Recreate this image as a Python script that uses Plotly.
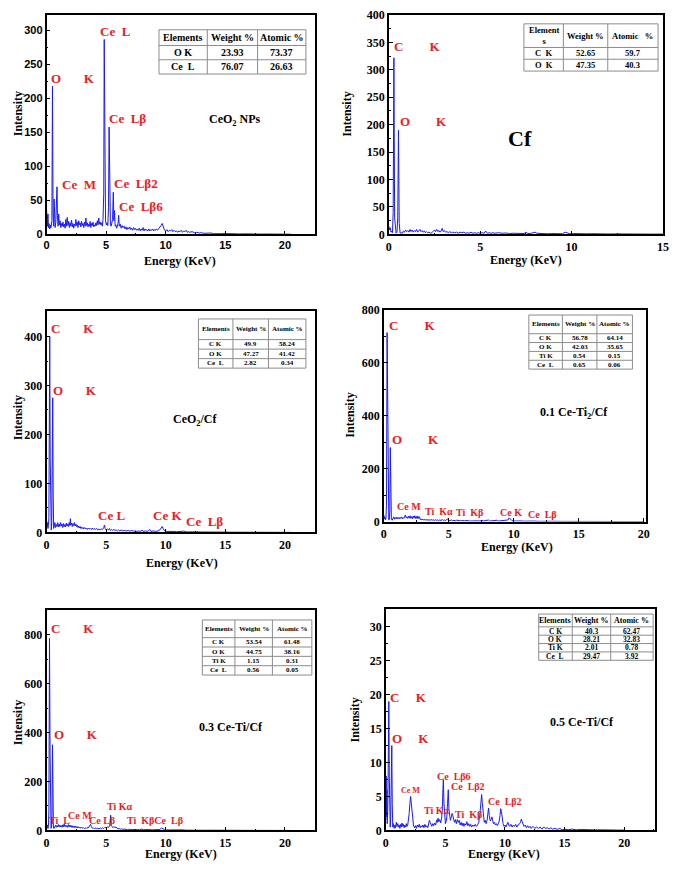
import plotly.graph_objects as go

# the page body keeps its default 8px margin: size the figure so the page is exactly the window,
# and lay everything out in window pixels minus that margin
OFF = 8
W, H = 677 - 2 * OFF, 873 - 2 * OFF
SERIF = "Liberation Serif"
SANS = "Liberation Sans"
RED = "#ee1c24"
GRID = "#8c8c8c"

# EDS spectra: (energy keV, counts)
ceo2_nps = [
    (0.00, 38), (0.04, 22), (0.08, 12), (0.12, 30), (0.16, 10), (0.20, 16), (0.25, 8), (0.30, 14),
    (0.35, 9), (0.40, 12), (0.45, 20), (0.50, 218), (0.55, 30), (0.60, 12), (0.64, 52), (0.68, 14),
    (0.72, 10), (0.78, 18), (0.84, 45), (0.88, 70), (0.92, 28), (0.97, 12), (1.02, 30), (1.08, 14),
    (1.14, 20), (1.20, 10), (1.26, 16), (1.32, 12), (1.38, 18), (1.44, 11), (1.50, 15), (1.56, 9),
    (1.62, 22), (1.68, 12), (1.74, 25), (1.80, 13), (1.86, 19), (1.92, 10), (1.98, 17), (2.04, 12),
    (2.10, 21), (2.16, 11), (2.22, 16), (2.28, 9), (2.34, 15), (2.40, 12), (2.46, 22), (2.52, 13),
    (2.58, 18), (2.64, 10), (2.70, 20), (2.76, 14), (2.82, 17), (2.88, 11), (2.94, 19), (3.00, 13),
    (3.06, 16), (3.12, 10), (3.18, 18), (3.24, 12), (3.30, 24), (3.36, 13), (3.42, 17), (3.48, 11),
    (3.54, 15), (3.60, 12), (3.66, 19), (3.72, 10), (3.78, 16), (3.84, 13), (3.90, 18), (3.96, 11),
    (4.02, 14), (4.08, 12), (4.14, 17), (4.20, 13), (4.26, 20), (4.32, 14), (4.38, 24), (4.44, 15),
    (4.50, 18), (4.56, 14), (4.62, 17), (4.68, 12), (4.74, 22), (4.80, 60), (4.84, 287), (4.89, 60),
    (4.95, 20), (5.02, 14), (5.08, 17), (5.14, 13), (5.20, 40), (5.25, 158), (5.30, 45), (5.36, 15),
    (5.42, 12), (5.48, 18), (5.54, 22), (5.60, 62), (5.65, 20), (5.70, 35), (5.76, 12), (5.82, 14),
    (5.88, 9), (5.94, 12), (6.00, 16), (6.05, 28), (6.10, 12), (6.18, 15), (6.26, 9), (6.34, 13),
    (6.42, 10), (6.50, 12), (6.58, 8), (6.66, 11), (6.74, 7), (6.82, 10), (6.90, 8), (6.98, 11),
    (7.06, 7), (7.14, 9), (7.22, 6), (7.30, 10), (7.38, 7), (7.46, 9), (7.54, 6), (7.62, 8),
    (7.70, 6), (7.78, 9), (7.86, 5), (7.94, 8), (8.02, 6), (8.10, 10), (8.18, 5), (8.26, 8),
    (8.34, 6), (8.42, 7), (8.50, 5), (8.58, 8), (8.66, 5), (8.74, 7), (8.82, 6), (8.90, 8),
    (8.98, 5), (9.06, 7), (9.14, 6), (9.22, 8), (9.30, 6), (9.40, 8), (9.50, 10), (9.60, 13),
    (9.70, 16), (9.80, 10), (9.90, 6), (10.0, 5), (10.1, 7), (10.2, 4), (10.3, 6), (10.4, 5),
    (10.5, 7), (10.6, 4), (10.7, 6), (10.8, 4), (10.9, 5), (11.0, 3), (11.1, 5), (11.2, 4),
    (11.3, 6), (11.4, 3), (11.5, 5), (11.6, 4), (11.7, 6), (11.8, 3), (11.9, 4), (12.0, 3),
    (12.2, 4), (12.4, 2.5), (12.6, 3), (12.8, 2), (13.0, 2.5), (13.2, 1.5), (13.4, 2), (13.6, 1.5),
    (13.8, 2), (14.0, 1), (14.3, 1.5), (14.6, 1), (15.0, 1.2), (15.4, 0.8), (15.8, 1), (16.2, 0.6),
    (16.6, 0.8), (17.0, 0.5), (17.5, 0.6), (18.0, 0.4), (18.5, 0.5), (19.0, 0.3), (19.5, 0.4),
    (20.0, 0.3), (20.5, 0.2),
]

cf = [
    (0.00, 15), (0.04, 8), (0.08, 12), (0.12, 4), (0.16, 6), (0.20, 3), (0.24, 40), (0.28, 322),
    (0.32, 30), (0.36, 3), (0.40, 2), (0.45, 4), (0.49, 30), (0.53, 190), (0.57, 20), (0.62, 2),
    (0.68, 3), (0.74, 2), (0.80, 6), (0.86, 4), (0.92, 8), (0.98, 5), (1.04, 7), (1.10, 4),
    (1.16, 9), (1.22, 5), (1.28, 8), (1.34, 4), (1.40, 7), (1.46, 5), (1.52, 9), (1.58, 4),
    (1.64, 6), (1.70, 9), (1.76, 5), (1.82, 7), (1.88, 4), (1.94, 6), (2.00, 3), (2.06, 5),
    (2.12, 3), (2.20, 4), (2.28, 2), (2.36, 3), (2.44, 6), (2.50, 8), (2.56, 5), (2.62, 9),
    (2.68, 5), (2.74, 7), (2.80, 4), (2.86, 6), (2.92, 11), (2.98, 5), (3.04, 7), (3.10, 4),
    (3.18, 5), (3.26, 3), (3.34, 5), (3.42, 3), (3.50, 4), (3.60, 3), (3.70, 4), (3.80, 2),
    (3.90, 4), (4.00, 3), (4.10, 4), (4.20, 2), (4.30, 3), (4.40, 2), (4.50, 4), (4.60, 2),
    (4.70, 3), (4.80, 2), (4.90, 3), (5.00, 2), (5.10, 3), (5.20, 2), (5.30, 6), (5.40, 2),
    (5.50, 3), (5.60, 2), (5.70, 3), (5.80, 2), (6.00, 3), (6.20, 2), (6.40, 2.5), (6.60, 1.5),
    (6.80, 2), (7.00, 1.5), (7.20, 2), (7.40, 1.5), (7.50, 4), (7.60, 1.5), (7.80, 2), (8.00, 4),
    (8.10, 2), (8.30, 1.5), (8.50, 2), (8.70, 1), (8.90, 1.5), (9.10, 1), (9.30, 1.5), (9.50, 1),
    (9.65, 4), (9.75, 3), (9.90, 1), (10.1, 1.5), (10.3, 1), (10.5, 1.5), (10.8, 1), (11.1, 1.2),
    (11.4, 0.8), (11.7, 1), (12.0, 0.7), (12.4, 0.9), (12.8, 0.6), (13.2, 0.7), (13.6, 0.5),
    (14.0, 0.6), (14.5, 0.4), (15.0, 0.5),
]

ceo2_cf = [
    (0.00, 25), (0.04, 12), (0.08, 20), (0.12, 8), (0.16, 14), (0.20, 30), (0.24, 180), (0.27, 400),
    (0.31, 150), (0.35, 10), (0.40, 5), (0.44, 20), (0.48, 120), (0.52, 275), (0.56, 80), (0.60, 8),
    (0.64, 12), (0.70, 20), (0.76, 10), (0.82, 16), (0.88, 12), (0.94, 20), (1.00, 11), (1.06, 17),
    (1.12, 12), (1.18, 20), (1.24, 13), (1.30, 17), (1.36, 10), (1.42, 18), (1.48, 12), (1.54, 16),
    (1.60, 11), (1.66, 19), (1.72, 13), (1.78, 17), (1.84, 12), (1.90, 20), (1.96, 14), (2.00, 28),
    (2.04, 15), (2.10, 19), (2.16, 12), (2.22, 18), (2.28, 14), (2.34, 20), (2.40, 13), (2.46, 17),
    (2.52, 12), (2.58, 15), (2.64, 10), (2.70, 13), (2.76, 9), (2.82, 12), (2.88, 8), (2.94, 11),
    (3.00, 8), (3.06, 10), (3.12, 7), (3.20, 10), (3.28, 7), (3.36, 9), (3.44, 6), (3.52, 9),
    (3.60, 7), (3.68, 8), (3.76, 6), (3.84, 9), (3.92, 6), (4.00, 8), (4.10, 6), (4.20, 8),
    (4.30, 5), (4.40, 7), (4.50, 5), (4.60, 7), (4.70, 6), (4.80, 10), (4.86, 15), (4.92, 8),
    (5.00, 5), (5.10, 7), (5.20, 5), (5.28, 8), (5.36, 4), (5.45, 6), (5.55, 4), (5.65, 6),
    (5.75, 4), (5.85, 5), (5.95, 3), (6.05, 5), (6.15, 3), (6.25, 5), (6.40, 3), (6.55, 4),
    (6.70, 3), (6.85, 4), (7.00, 2.5), (7.15, 4), (7.30, 2.5), (7.45, 3), (7.60, 2), (7.75, 3),
    (7.90, 2), (8.00, 5), (8.10, 2), (8.30, 3), (8.50, 2), (8.65, 6), (8.75, 2), (8.95, 3),
    (9.15, 2), (9.35, 3), (9.50, 5), (9.62, 9), (9.70, 12), (9.78, 8), (9.90, 3), (10.1, 2),
    (10.3, 2.5), (10.5, 1.5), (10.7, 2), (10.9, 1.5), (11.1, 2), (11.3, 1.5), (11.5, 2.5), (11.7, 1),
    (12.0, 1.5), (12.3, 1), (12.6, 1.2), (13.0, 0.8), (13.4, 1), (13.8, 0.6), (14.2, 0.8), (14.6, 0.5),
    (15.0, 0.6), (15.5, 0.4), (16.0, 0.5), (16.5, 0.3), (17.0, 0.4), (17.5, 0.3), (18.0, 0.3),
    (18.5, 0.2), (19.0, 0.3), (19.5, 0.2), (20.0, 0.2), (20.5, 0.1),
]

ce_ti_01 = [
    (0.00, 25), (0.04, 10), (0.08, 18), (0.12, 6), (0.16, 12), (0.20, 60), (0.25, 715), (0.30, 300),
    (0.34, 20), (0.38, 6), (0.42, 8), (0.46, 40), (0.50, 280), (0.54, 60), (0.58, 8), (0.64, 5),
    (0.70, 10), (0.76, 18), (0.82, 9), (0.88, 15), (0.94, 10), (1.00, 17), (1.06, 11), (1.12, 15),
    (1.18, 10), (1.24, 16), (1.30, 12), (1.36, 18), (1.42, 11), (1.48, 15), (1.54, 12), (1.60, 20),
    (1.66, 25), (1.72, 14), (1.78, 18), (1.84, 12), (1.90, 20), (1.96, 13), (2.02, 22), (2.08, 12),
    (2.14, 19), (2.20, 11), (2.26, 21), (2.32, 13), (2.38, 22), (2.44, 12), (2.50, 20), (2.56, 11),
    (2.62, 21), (2.68, 12), (2.74, 18), (2.80, 8), (2.86, 10), (2.92, 6), (3.00, 9), (3.08, 6),
    (3.16, 8), (3.24, 5), (3.32, 8), (3.40, 5), (3.48, 7), (3.56, 5), (3.64, 8), (3.72, 5),
    (3.80, 7), (3.88, 4), (3.96, 7), (4.04, 5), (4.12, 6), (4.20, 4), (4.30, 6), (4.40, 4),
    (4.50, 8), (4.58, 4), (4.66, 6), (4.74, 4), (4.82, 6), (4.92, 10), (5.00, 5), (5.10, 4),
    (5.20, 6), (5.30, 3), (5.40, 5), (5.50, 3), (5.60, 5), (5.70, 3), (5.80, 4), (5.90, 3),
    (6.00, 4), (6.20, 3), (6.40, 4), (6.60, 2), (6.80, 3), (7.00, 2), (7.20, 3), (7.40, 2),
    (7.55, 5), (7.65, 2), (7.85, 3), (8.05, 6), (8.15, 2), (8.35, 3), (8.55, 2), (8.70, 5),
    (8.80, 2), (9.00, 3), (9.20, 2), (9.40, 3), (9.55, 6), (9.65, 14), (9.75, 10), (9.85, 4),
    (10.0, 2), (10.2, 3), (10.4, 2), (10.6, 2.5), (10.8, 1.5), (11.0, 2), (11.3, 1.5), (11.6, 2),
    (11.9, 1), (12.2, 1.5), (12.5, 2), (12.8, 1), (13.2, 1.2), (13.6, 0.8), (14.0, 1), (14.5, 0.7),
    (15.1, 0.8), (15.6, 0.6), (16.2, 0.5), (16.8, 0.5), (17.4, 0.4), (18.2, 0.3), (18.8, 0.3),
    (19.4, 0.2), (20.0, 0.2),
]

ce_ti_03 = [
    (0.00, 30), (0.04, 12), (0.08, 22), (0.12, 8), (0.16, 15), (0.20, 80), (0.25, 785), (0.30, 320),
    (0.34, 25), (0.38, 8), (0.42, 12), (0.46, 60), (0.50, 350), (0.54, 80), (0.58, 10), (0.64, 8),
    (0.70, 14), (0.76, 22), (0.82, 13), (0.88, 20), (0.94, 14), (1.00, 24), (1.06, 15), (1.12, 22),
    (1.18, 14), (1.24, 20), (1.30, 13), (1.36, 23), (1.42, 15), (1.48, 26), (1.54, 16), (1.60, 22),
    (1.66, 14), (1.72, 20), (1.78, 13), (1.84, 24), (1.90, 15), (1.96, 22), (2.02, 14), (2.08, 20),
    (2.14, 12), (2.20, 19), (2.26, 13), (2.32, 18), (2.38, 11), (2.44, 17), (2.50, 12), (2.56, 16),
    (2.62, 10), (2.68, 15), (2.74, 11), (2.80, 14), (2.86, 9), (2.92, 13), (3.00, 9), (3.08, 12),
    (3.16, 8), (3.24, 11), (3.32, 8), (3.40, 12), (3.48, 9), (3.56, 14), (3.64, 18), (3.70, 25),
    (3.76, 15), (3.84, 9), (3.92, 11), (4.00, 7), (4.10, 10), (4.20, 7), (4.30, 9), (4.40, 6),
    (4.50, 10), (4.60, 7), (4.70, 11), (4.80, 8), (4.90, 13), (5.00, 10), (5.10, 15), (5.20, 12),
    (5.30, 20), (5.38, 62), (5.44, 18), (5.50, 15), (5.58, 12), (5.66, 16), (5.74, 11), (5.82, 14),
    (5.90, 8), (6.00, 6), (6.10, 8), (6.20, 5), (6.30, 7), (6.40, 4), (6.50, 6), (6.60, 4),
    (6.70, 5), (6.80, 3), (6.90, 5), (7.00, 3), (7.20, 4), (7.40, 3), (7.60, 4), (7.80, 3),
    (8.00, 6), (8.10, 3), (8.30, 4), (8.50, 2.5), (8.70, 3.5), (8.90, 2.5), (9.10, 3), (9.30, 2),
    (9.50, 4), (9.65, 10), (9.75, 7), (9.90, 3), (10.1, 2), (10.3, 2.5), (10.5, 1.5), (10.8, 2),
    (11.1, 1.5), (11.4, 2.5), (11.7, 1), (12.0, 1.5), (12.4, 1), (12.8, 1.2), (13.2, 0.8), (13.6, 1),
    (14.0, 0.6), (14.5, 0.8), (15.0, 0.5), (15.6, 0.6), (16.2, 0.4), (16.8, 0.4), (17.4, 0.3),
    (18.0, 0.3), (18.6, 0.2), (19.2, 0.2), (19.8, 0.2), (20.4, 0.1),
]

ce_ti_05 = [
    (0.00, 1.5), (0.03, 8), (0.06, 2), (0.09, 6), (0.12, 1), (0.16, 3), (0.20, 9), (0.25, 19),
    (0.29, 8), (0.33, 1.5), (0.37, 0.5), (0.41, 2), (0.46, 6), (0.50, 12.5), (0.54, 4), (0.58, 0.5),
    (0.64, 1), (0.70, 0.3), (0.76, 0.8), (0.82, 0.4), (0.88, 1.2), (0.94, 0.6), (1.00, 1), (1.06, 0.5),
    (1.12, 0.8), (1.18, 0.3), (1.24, 0.9), (1.30, 0.5), (1.36, 1.1), (1.42, 0.6), (1.48, 0.9),
    (1.54, 0.4), (1.60, 0.8), (1.66, 0.5), (1.72, 1), (1.78, 0.6), (1.84, 0.8), (1.90, 1.4),
    (1.96, 2.5), (2.02, 4), (2.08, 5), (2.14, 4), (2.20, 2.5), (2.26, 1.5), (2.32, 0.8), (2.40, 0.4),
    (2.48, 0.7), (2.56, 0.3), (2.64, 0.8), (2.72, 0.5), (2.80, 0.9), (2.88, 0.4), (2.96, 0.7),
    (3.04, 0.5), (3.12, 0.8), (3.20, 0.4), (3.28, 0.9), (3.36, 0.5), (3.44, 0.7), (3.52, 0.4),
    (3.60, 0.9), (3.66, 1.5), (3.72, 1.2), (3.78, 0.8), (3.86, 0.6), (3.94, 1), (4.02, 0.7),
    (4.10, 1.1), (4.18, 0.8), (4.26, 1.5), (4.32, 1.2), (4.38, 1.8), (4.44, 1.3), (4.52, 1.6),
    (4.60, 1.1), (4.68, 1.8), (4.74, 3), (4.79, 6), (4.83, 7.5), (4.88, 4), (4.94, 1.5), (5.00, 1),
    (5.06, 1.3), (5.12, 2), (5.18, 4), (5.24, 6), (5.30, 3), (5.36, 1.8), (5.42, 1.5), (5.50, 2),
    (5.56, 2.5), (5.62, 2.2), (5.68, 1.5), (5.76, 1.2), (5.84, 1.6), (5.92, 1), (6.00, 1.6),
    (6.08, 1.2), (6.16, 1.5), (6.24, 0.8), (6.32, 1.2), (6.40, 0.7), (6.48, 1.1), (6.56, 0.6),
    (6.64, 1), (6.72, 0.8), (6.80, 1.3), (6.88, 0.7), (6.96, 1), (7.04, 0.6), (7.12, 0.9),
    (7.20, 0.5), (7.30, 0.8), (7.40, 0.6), (7.50, 0.9), (7.60, 0.6), (7.70, 0.8), (7.80, 1.2),
    (7.90, 2.5), (7.98, 4.5), (8.04, 5.3), (8.10, 4), (8.18, 2), (8.26, 1.2), (8.34, 1.5), (8.42, 1),
    (8.50, 1.5), (8.56, 2.5), (8.62, 3.3), (8.68, 2.2), (8.76, 1.4), (8.84, 1.6), (8.90, 2),
    (8.96, 1.5), (9.04, 1), (9.12, 1.2), (9.20, 0.8), (9.28, 1), (9.36, 0.7), (9.44, 1), (9.52, 1.4),
    (9.58, 2.2), (9.64, 3.2), (9.70, 2.8), (9.76, 1.6), (9.84, 1), (9.92, 0.6), (10.0, 0.8),
    (10.08, 0.5), (10.16, 0.9), (10.24, 1.2), (10.32, 0.8), (10.40, 0.6), (10.50, 0.9), (10.60, 0.5),
    (10.70, 0.8), (10.80, 0.6), (10.90, 0.9), (11.00, 0.5), (11.10, 0.8), (11.20, 0.9), (11.30, 1.2),
    (11.38, 1.7), (11.44, 1.3), (11.52, 0.9), (11.60, 0.6), (11.70, 0.8), (11.80, 0.4), (11.90, 0.7),
    (12.00, 0.4), (12.10, 0.6), (12.20, 0.3), (12.35, 0.6), (12.50, 0.3), (12.65, 0.5), (12.80, 0.3),
    (12.95, 0.5), (13.10, 0.2), (13.25, 0.5), (13.40, 0.3), (13.55, 0.4), (13.70, 0.2), (13.85, 0.4),
    (14.00, 0.2), (14.20, 0.3), (14.40, 0.15), (14.60, 0.3), (14.80, 0.1), (15.00, 0.2), (15.3, 0.1),
    (15.6, 0.2), (16.0, 0.1), (16.4, 0.15), (16.8, 0.1), (17.2, 0.1), (17.6, 0.08), (18.0, 0.1),
    (18.5, 0.05), (19.0, 0.08), (19.5, 0.05), (20.0, 0.05),
]

# composition tables
hdr = ["Elements", "Weight %", "Atomic %"]
tab_ceo2_nps = [["O K", "23.93", "73.37"], ["Ce  L", "76.07", "26.63"]]
tab_cf = [["C  K", "52.65", "59.7"], ["O  K", "47.35", "40.3"]]
tab_ceo2_cf = [["C K", "49.9", "58.24"], ["O K", "47.27", "41.42"], ["Ce  L", "2.82", "0.34"]]
tab_01 = [["C K", "56.78", "64.14"], ["O K", "42.03", "35.65"], ["Ti K", "0.54", "0.15"], ["Ce  L", "0.65", "0.06"]]
tab_03 = [["C K", "53.54", "61.48"], ["O K", "44.75", "38.16"], ["Ti K", "1.15", "0.31"], ["Ce  L", "0.56", "0.05"]]
tab_05 = [["C K", "40.3", "62.47"], ["O K", "28.21", "32.83"], ["Ti K", "2.01", "0.78"], ["Ce  L", "29.47", "3.92"]]

NB = "\u00a0"


def sp(n):
    return NB * n


panels = [
    dict(data=ceo2_nps, box=(44, 8, 316, 231), xr=[0, 22.5], yr=[0, 323], ydt=50, xmax=20,
         tick=(SANS, 11),
         table=tab_ceo2_nps, head=hdr, tcols=(158, 207, 258, 307), trows=(23, 39, 68), tfs=(10, 10),
         xt=(179, 258), yt=(15, 108),
         labels=[("Ce" + sp(2) + "L", 4.3, 298, 13, RED), ("O" + sp(7) + "K", 0.25, 230, 13, RED),
                 ("Ce" + sp(2) + "Lβ", 5.1, 170, 13, RED), ("Ce" + sp(2) + "M", 1.16, 74, 13, RED),
                 ("Ce" + sp(2) + "Lβ2", 5.5, 75, 13, RED), ("Ce" + sp(2) + "Lβ6", 5.95, 41, 13, RED),
                 ("CeO<sub>2</sub> NPs", 13.5, 168, 12, "black")]),
    dict(data=cf, box=(391, 8, 669, 231), xr=[0, 15], yr=[0, 400], ydt=50, xmax=15,
         tick=(SERIF, 12),
         table=tab_cf, head=["Element<br>s", "Weight %", "Atomic" + sp(3) + "%"],
         tcols=(528, 568, 613, 664), trows=(17, 41, 65), tfs=(8.5, 8.5),
         xt=(530, 257), yt=(349, 109),
         labels=[("C" + sp(8) + "K", 0.2, 342, 13, RED), ("O" + sp(8) + "K", 0.53, 205, 13, RED),
                 ("Cf", 6.4, 175, 22, "black")]),
    dict(data=ceo2_cf, box=(44, 309, 316, 534), xr=[0, 22.5], yr=[0, 452], ydt=100, xmax=20,
         tick=(SERIF, 12),
         table=tab_ceo2_cf, head=hdr, tcols=(198, 233, 269, 307), trows=(317, 338, 367), tfs=(7, 7),
         xt=(181, 565), yt=(15, 417),
         labels=[("C" + sp(7) + "K", 0.25, 416, 13, RED), ("O" + sp(7) + "K", 0.4, 289, 13, RED),
                 ("CeO<sub>2</sub>/Cf", 10.4, 229, 12, "black"), ("Ce L", 4.15, 34, 13, RED),
                 ("Ce K", 8.75, 34, 13, RED), ("Ce" + sp(2) + "Lβ", 11.5, 22, 13, RED)]),
    dict(data=ce_ti_01, box=(386, 308, 652, 523), xr=[0, 20.2], yr=[0, 800], ydt=200, xmax=20,
         tick=(SERIF, 12),
         table=tab_01, head=hdr, tcols=(533, 567, 602, 638), trows=(313, 332, 368), tfs=(7, 7),
         xt=(521, 549), yt=(352, 415),
         labels=[("C" + sp(8) + "K", 0.23, 743, 13, RED), ("O" + sp(8) + "K", 0.46, 312, 13, RED),
                 ("0.1 Ce-Ti<sub>2</sub>/Cf", 11.9, 409, 12, "black"), ("Ce M", 0.84, 56, 10, RED),
                 ("Ti" + sp(2) + "Kα", 3.0, 37, 10, RED), ("Ti" + sp(2) + "Kβ", 5.4, 33, 10, RED),
                 ("Ce K", 8.8, 33, 10, RED), ("Ce" + sp(2) + "Lβ", 10.95, 26, 10, RED)]),
    dict(data=ce_ti_03, box=(44, 613, 316, 837), xr=[0, 22.5], yr=[0, 900], ydt=200, xmax=20,
         tick=(SERIF, 12),
         table=tab_03, head=hdr, tcols=(202, 235, 273, 313), trows=(623, 641, 679), tfs=(7, 7),
         xt=(180, 861), yt=(15, 727),
         labels=[("C" + sp(7) + "K", 0.25, 823, 13, RED), ("O" + sp(7) + "K", 0.5, 390, 13, RED),
                 ("0.3 Ce-Ti/Cf", 12.6, 422, 12, "black"), ("Ti" + sp(2) + "L", 0.08, 40, 10, RED),
                 ("Ce M", 1.6, 60, 10, RED), ("Ce Lβ", 3.4, 40, 10, RED),
                 ("Ti Kα", 4.9, 96, 10, RED), ("Ti" + sp(2) + "KβCe" + sp(2) + "Lβ", 6.6, 40, 10, RED)]),
    dict(data=ce_ti_05, box=(388, 612, 661, 837), xr=[0, 22.6], yr=[0, 32.6], ydt=5, xmax=20,
         tick=(SERIF, 12),
         table=tab_05, head=hdr, tcols=(543, 577, 616, 659), trows=(617, 630, 664), tfs=(8, 7.5),
         xt=(508, 861), yt=(357, 725),
         labels=[("C" + sp(5) + "K", 0.17, 19.6, 13, RED), ("O" + sp(5) + "K", 0.33, 13.5, 13, RED),
                 ("0.5 Ce-Ti/Cf", 13.6, 16, 12, "black"), ("Ce M", 1.07, 5.9, 8, RED),
                 ("Ce" + sp(2) + "Lβ6", 4.1, 8, 10, RED), ("Ce" + sp(2) + "Lβ2", 5.3, 6.5, 10, RED),
                 ("Ti Kα", 3.05, 2.9, 10, RED), ("Ti" + sp(2) + "Kβ", 5.6, 2.3, 10, RED),
                 ("Ce" + sp(2) + "Lβ2", 8.4, 4.3, 10, RED)]),
]


def px(x):
    return min(1.0, max(0.0, (x - OFF) / W))


def py(y):
    return min(1.0, max(0.0, 1 - (y - OFF) / H))


fig = go.Figure()
annotations = []
shapes = []
layout = dict(
    width=W, height=H, margin=dict(l=0, r=0, t=0, b=0),
    paper_bgcolor="white", plot_bgcolor="white", showlegend=False,
    font=dict(family=SERIF, color="black"),
)


def add_table(p):
    cx = p["tcols"]
    top, hbot, bot = p["trows"]
    rows = p["table"]
    n = len(rows)
    rh = (bot - hbot) / n
    ys = [top, hbot] + [hbot + rh * (k + 1) for k in range(n)]
    shapes.append(dict(type="rect", xref="paper", yref="paper", x0=px(cx[0]), x1=px(cx[-1]),
                       y0=py(bot), y1=py(top), line=dict(color=GRID, width=1), fillcolor="white"))
    for xv in cx[1:-1]:
        shapes.append(dict(type="line", xref="paper", yref="paper", x0=px(xv), x1=px(xv),
                           y0=py(bot), y1=py(top), line=dict(color=GRID, width=1)))
    for yv in ys[1:-1]:
        shapes.append(dict(type="line", xref="paper", yref="paper", x0=px(cx[0]), x1=px(cx[-1]),
                           y0=py(yv), y1=py(yv), line=dict(color=GRID, width=1)))
    for r, line in enumerate([p["head"]] + rows):
        for c, txt in enumerate(line):
            annotations.append(dict(
                text="<b>" + txt.replace("  ", NB + NB) + "</b>", xref="paper", yref="paper",
                x=px((cx[c] + cx[c + 1]) / 2), y=py((ys[r] + ys[r + 1]) / 2),
                xanchor="center", yanchor="middle", showarrow=False, borderpad=0,
                font=dict(family=SERIF, size=p["tfs"][0 if r == 0 else 1], color="black"),
            ))


for i, p in enumerate(panels, start=1):
    sfx = "" if i == 1 else str(i)
    x0, y0, x1, y1 = p["box"]
    energy = [e for e, _ in p["data"]]
    counts = [c for _, c in p["data"]]
    fig.add_trace(go.Scatter(
        x=energy, y=counts, mode="lines", xaxis="x" + sfx, yaxis="y" + sfx,
        line=dict(color="#1a1aff", width=1), hoverinfo="skip",
    ))
    common = dict(
        showline=True, linecolor="black", linewidth=1.5, mirror=True,
        ticks="inside", ticklen=4, tickwidth=1, tickcolor="black",
        showgrid=False, zeroline=False, ticklabeloverflow="allow",
        tickfont=dict(family=p["tick"][0], size=p["tick"][1], color="black", weight="bold"),
    )
    layout["xaxis" + sfx] = dict(
        common, domain=[px(x0), px(x1)], range=p["xr"], anchor="y" + sfx,
        tickmode="array", tickvals=list(range(0, p["xmax"] + 1, 5)),
        minor=dict(ticks="inside", ticklen=2, tickcolor="black", dtick=2.5),
    )
    yticks = []
    v = 0
    while v <= p["yr"][1]:
        yticks.append(v)
        v += p["ydt"]
    layout["yaxis" + sfx] = dict(
        common, domain=[py(y1), py(y0)], range=p["yr"], anchor="x" + sfx,
        tickmode="array", tickvals=yticks,
        minor=dict(ticks="inside", ticklen=2, tickcolor="black", dtick=p["ydt"] / 2),
    )
    # axis titles
    annotations.append(dict(
        text="<b>Energy (KeV)</b>", x=px(p["xt"][0]), y=py(p["xt"][1]), xref="paper", yref="paper",
        showarrow=False, font=dict(family=SERIF, size=12), xanchor="center", yanchor="middle",
    ))
    annotations.append(dict(
        text="<b>Intensity</b>", x=px(p["yt"][0]), y=py(p["yt"][1]), xref="paper", yref="paper",
        showarrow=False, font=dict(family=SERIF, size=12), textangle=-90,
        xanchor="center", yanchor="middle",
    ))
    for text, lx, ly, size, color in p["labels"]:
        annotations.append(dict(
            text="<b>" + text + "</b>", x=lx, y=ly, xref="x" + sfx, yref="y" + sfx,
            showarrow=False, xanchor="left", yanchor="middle",
            font=dict(family=SERIF, size=size, color=color),
        ))
    add_table(p)

layout["annotations"] = annotations
layout["shapes"] = shapes
fig.update_layout(**layout)
fig.write_html("out.html")
